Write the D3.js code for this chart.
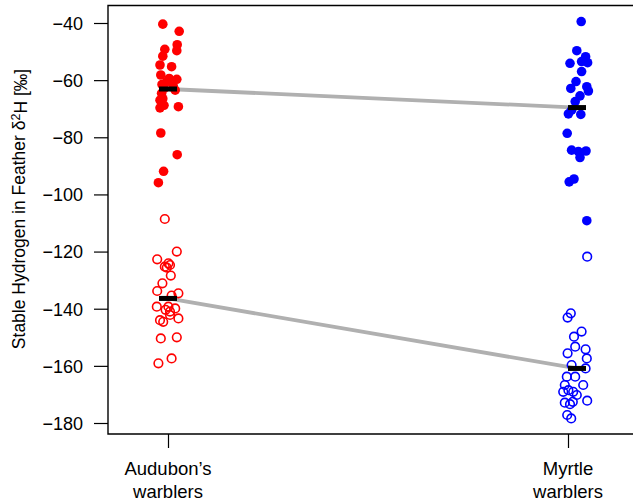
<!DOCTYPE html>
<html>
<head>
<meta charset="utf-8">
<script src="https://cdn.jsdelivr.net/npm/d3@7"></script>
<style>
  body { margin: 0; background: #fff; }
  text { font-family: "Liberation Sans", Arial, sans-serif; fill: #000; }
</style>
</head>
<body>
<svg id="chart"></svg>
<script>
// categories and tick labels
const groups = [["Audubon\u2019s", "warblers"], ["Myrtle", "warblers"]];
const yTicks = [-40, -60, -80, -100, -120, -140, -160, -180];

// [jitter (category units), δ2H] per point
const audubonFilled = [
    [-0.013, -40.4], [0.028, -42.9], [0.023, -47.6], [0.022, -49.7], [-0.008, -49.2],
    [-0.013, -51.6], [-0.020, -54.7], [0.009, -55.3], [-0.018, -58.2], [0.003, -59.4],
    [0.022, -59.7], [-0.015, -61.5], [-0.003, -60.5], [0.013, -62.0], [-0.010, -63.0],
    [0.018, -63.5], [-0.016, -64.6], [-0.020, -67.0], [-0.013, -66.5], [0.026, -69.3],
    [-0.020, -69.7], [-0.010, -68.8], [-0.018, -78.5], [0.023, -86.1], [-0.011, -91.9],
    [-0.024, -95.9]
];
const audubonOpen = [
    [-0.008, -108.6], [0.022, -120.0], [-0.027, -122.7], [-0.008, -125.3], [0.001, -124.1],
    [0.005, -124.7], [-0.003, -125.6], [0.007, -128.4], [-0.014, -131.1], [-0.027, -133.8],
    [0.026, -134.6], [0.009, -135.4], [-0.028, -139.3], [0.001, -139.3], [0.018, -139.9],
    [0.005, -141.0], [-0.006, -140.4], [-0.020, -144.0], [0.026, -143.4], [0.005, -142.2],
    [-0.012, -144.6], [-0.018, -150.4], [0.022, -150.0], [-0.024, -159.1], [0.009, -157.4]
];
const myrtleFilled = [
    [0.033, -39.5], [0.022, -49.7], [0.044, -51.8], [0.005, -54.1], [0.034, -53.5],
    [0.049, -53.9], [0.034, -57.0], [0.020, -60.5], [0.007, -62.9], [0.047, -62.3],
    [0.051, -63.8], [0.030, -65.5], [0.018, -67.5], [0.009, -70.5], [0.001, -71.8],
    [0.032, -72.0], [-0.002, -78.6], [0.009, -84.5], [0.026, -85.0], [0.045, -84.8],
    [0.030, -87.1], [0.015, -94.6], [0.003, -95.6], [0.047, -109.2]
];
const myrtleOpen = [
    [0.048, -121.8], [0.007, -141.6], [-0.001, -143.1], [0.015, -149.8], [0.034, -148.0],
    [0.018, -153.3], [0.044, -154.2], [-0.001, -155.6], [0.047, -157.4], [0.044, -160.9],
    [0.009, -159.7], [-0.003, -163.8], [0.018, -163.8], [0.038, -166.7], [-0.008, -166.7],
    [0.001, -168.5], [0.013, -169.1], [-0.012, -169.1], [0.022, -170.2], [-0.008, -172.9],
    [0.005, -173.4], [0.048, -172.2], [0.012, -172.6], [-0.002, -177.2], [0.008, -178.4]
];

// medians, drawn at each cluster centre
const clusterCentre = [1.0, 2.0225];
const medianFilled = [-63.1, -69.6];
const medianOpen = [-136.4, -160.9];

const series = [
    {pts: audubonFilled, g: 0, color: "#ff0000", filled: true},
    {pts: audubonOpen, g: 0, color: "#ff0000", filled: false},
    {pts: myrtleFilled, g: 1, color: "#0000ff", filled: true},
    {pts: myrtleOpen, g: 1, color: "#0000ff", filled: false}
];

const width = 633, height = 504;
const svg = d3.select("#chart").attr("width", width).attr("height", height);

const x = d3.scaleLinear().domain([1, 2]).range([168, 568]);
const y = d3.scaleLinear().domain([-180, -40]).range([423, 23]);

const box = {left: 108, top: 5.5, bottom: 434, right: 640};

// frame (right side runs off the canvas)
svg.append("path")
    .attr("d", `M${box.right},${box.top}H${box.left}V${box.bottom}H${box.right}`)
    .attr("fill", "none").attr("stroke", "#000").attr("stroke-width", 1.4);

// y axis
const yAxis = svg.append("g")
    .attr("transform", `translate(${box.left},0)`)
    .call(d3.axisLeft(y).tickValues(yTicks).tickSize(14).tickPadding(11)
        .tickFormat(d => d3.format("d")(d)));
yAxis.select(".domain").remove();
yAxis.selectAll("line").attr("stroke-width", 1.2);
yAxis.selectAll("text").style("font-size", "18px").attr("dy", "0.35em")
    .style("font-family", "'Liberation Sans', Arial, sans-serif");

// x axis
const xAxis = svg.append("g")
    .attr("transform", `translate(0,${box.bottom})`)
    .call(d3.axisBottom(x).tickValues([1, 2]).tickSize(14).tickFormat(""));
xAxis.select(".domain").remove();
xAxis.selectAll("line").attr("stroke-width", 1.2);

groups.forEach((lines, i) => {
    const t = svg.append("text")
        .attr("x", x(i + 1)).attr("y", 475)
        .attr("text-anchor", "middle")
        .style("font-size", "18.5px");
    lines.forEach((l, k) => {
        t.append("tspan").attr("x", x(i + 1)).attr("dy", k === 0 ? 0 : 23).text(l);
    });
});

// y title
const title = svg.append("text")
    .attr("transform", `translate(25,${(23 + 423) / 2 - 14}) rotate(-90)`)
    .attr("text-anchor", "middle")
    .style("font-size", "17.5px");
title.append("tspan").text("Stable Hydrogen in Feather \u03b4");
title.append("tspan").attr("dy", "-0.4em").style("font-size", "12.5px").text("2");
title.append("tspan").attr("dy", "0.4em").text("H [\u2030]");

// connecting lines between medians
[medianFilled, medianOpen].forEach(m => {
    svg.append("line")
        .attr("x1", x(clusterCentre[0])).attr("y1", y(m[0]))
        .attr("x2", x(clusterCentre[1])).attr("y2", y(m[1]))
        .attr("stroke", "#b0b0b0").attr("stroke-width", 3.8);
});

// points
series.forEach(s => {
    svg.append("g").selectAll("circle")
        .data(s.pts)
        .join("circle")
        .attr("cx", d => x(s.g + 1 + d[0]))
        .attr("cy", d => y(d[1]))
        .attr("r", s.filled ? 4.8 : 4.3)
        .attr("fill", s.filled ? s.color : "none")
        .attr("stroke", s.color)
        .attr("stroke-width", s.filled ? 0 : 1.6);
});

// median bars
[medianFilled, medianOpen].forEach(m => {
    svg.append("g").selectAll("rect")
        .data(m)
        .join("rect")
        .attr("x", (d, i) => x(clusterCentre[i]) - 9)
        .attr("y", d => y(d) - 2.5)
        .attr("width", 18)
        .attr("height", 5)
        .attr("fill", "#000");
});
</script>
</body>
</html>
